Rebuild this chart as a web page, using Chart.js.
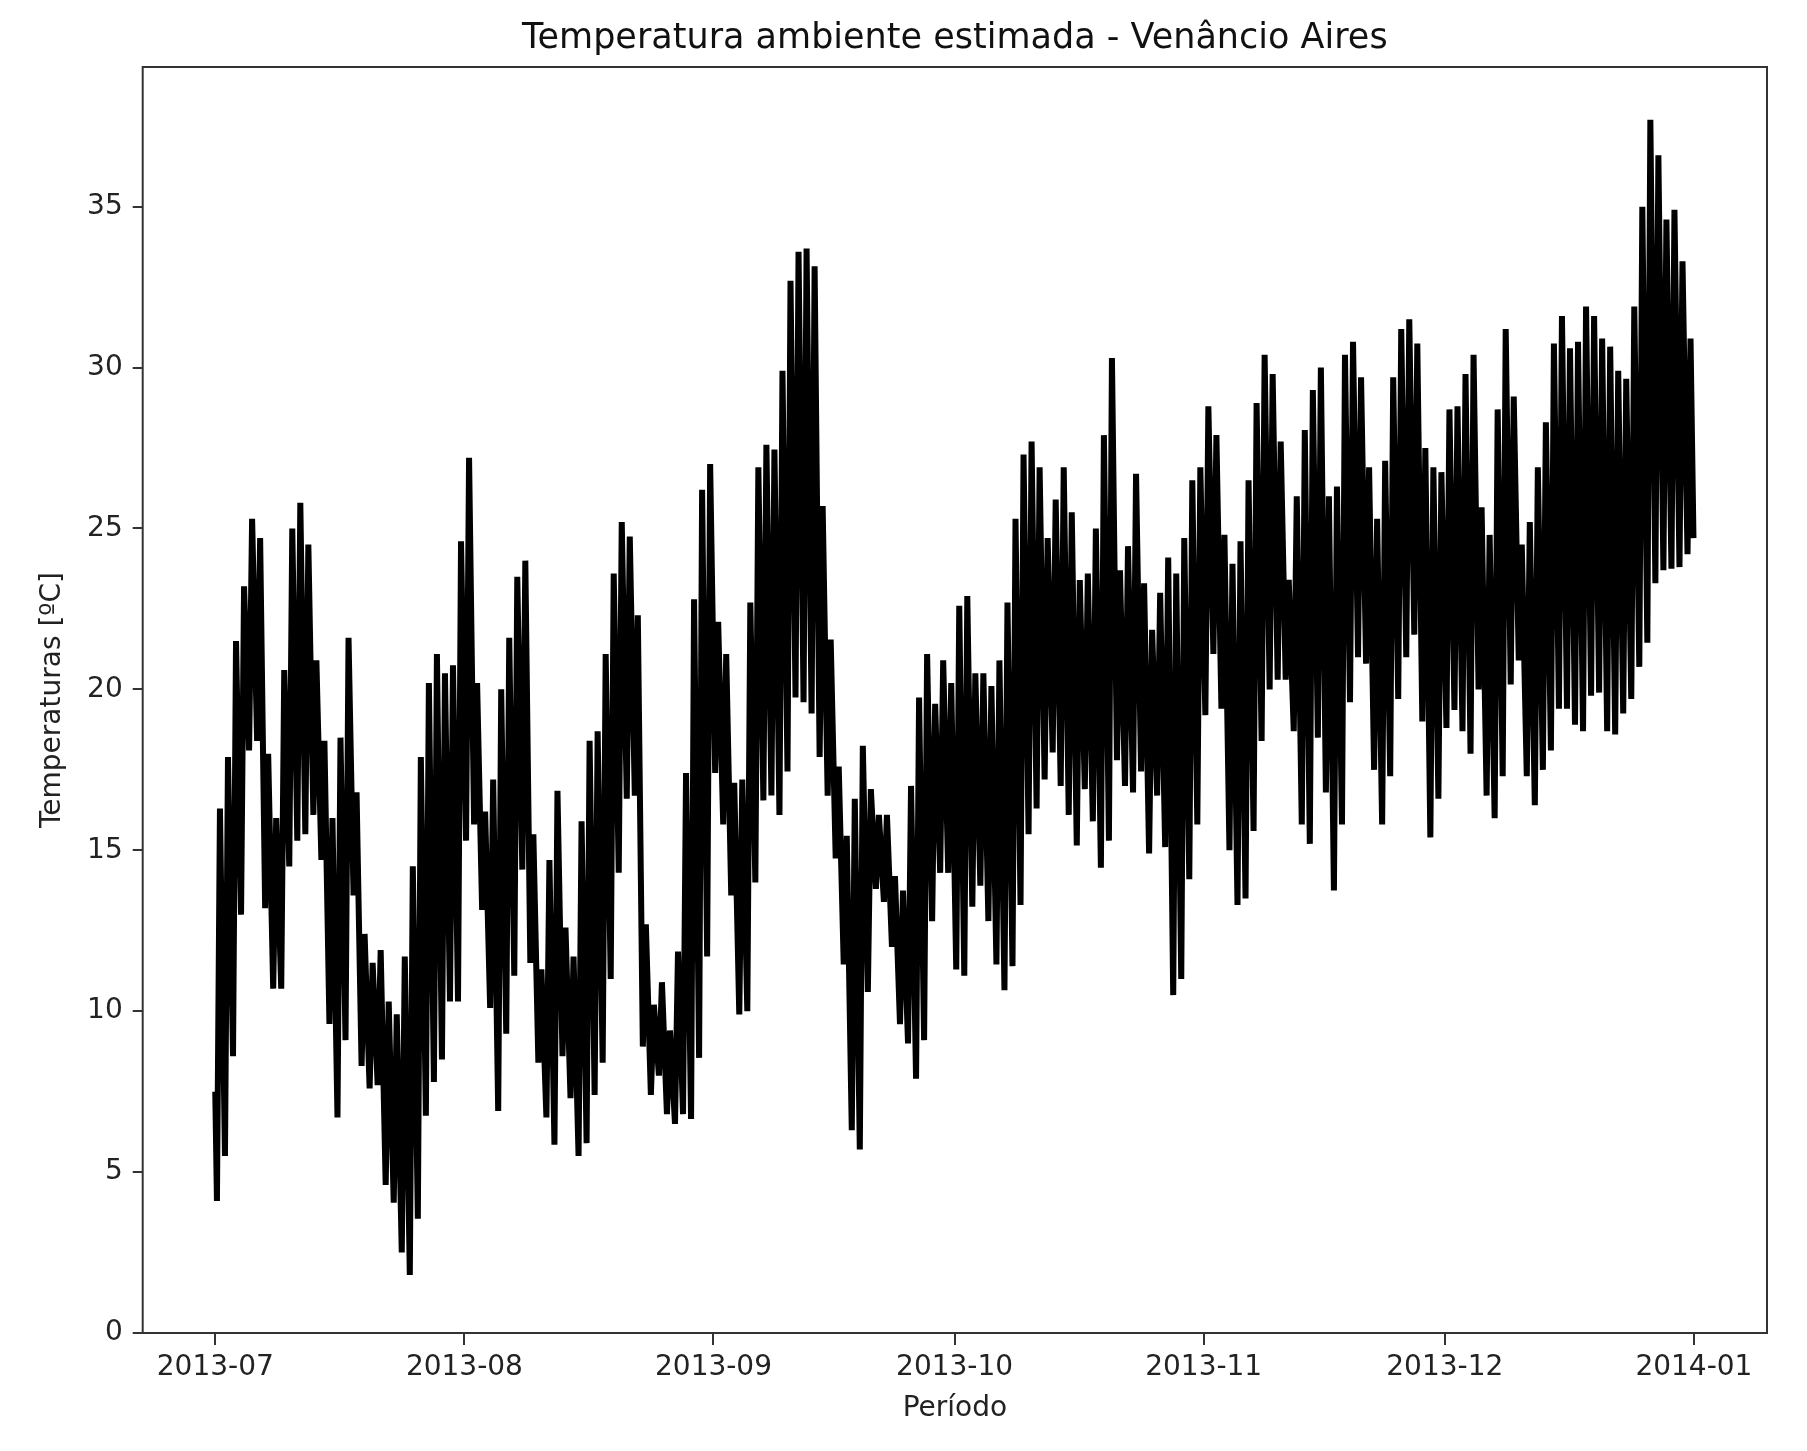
<!DOCTYPE html>
<html>
<head>
<meta charset="utf-8">
<title>Temperatura ambiente estimada</title>
<script src="https://cdn.jsdelivr.net/npm/chart.js@4"></script>
<style>
    body { margin: 0; background: #fff; }
    canvas { display: block; filter: blur(0.7px); }
</style>
</head>
<body>
<canvas id="tempChart" width="1807" height="1451"></canvas>
<script>
// primeiro e ultimo valor da serie
const firstValue = 7.5;
const lastValue = 24.7;

// minima de cada dia, de 2013-07-01 a 2013-12-31
const dailyLow = [
    4.1, 5.5, 8.6, 13.0, 18.1, 18.4, 13.2, 10.7, 10.7, 14.5,
    15.3, 15.5, 16.1, 14.7, 9.6, 6.7, 9.1, 13.6, 8.3, 7.6,
    7.7, 4.6, 4.05, 2.5, 1.8, 3.55, 6.75, 7.8, 8.5, 10.3, 10.3,
    15.3, 15.8, 13.15, 10.1, 6.9, 9.3, 11.1, 14.4, 11.5, 8.4,
    6.7, 5.85, 8.6, 7.3, 5.5, 5.9, 7.4, 8.4, 11.0, 14.3,
    16.6, 16.7, 8.9, 7.4, 8.0, 6.8, 6.5, 6.8, 6.65, 8.55, 11.7,
    17.4, 15.8, 13.6, 9.9, 10.0, 14.0, 16.55, 16.7, 16.1, 17.45,
    19.75, 19.6, 19.25, 17.9, 16.7, 14.75, 11.45, 6.3, 5.7, 10.6,
    13.8, 13.4, 12.0, 9.6, 9.0, 7.9, 9.1, 12.8, 14.3, 14.3,
    11.3, 11.1, 13.25, 13.9, 12.8, 11.45, 10.65, 11.4, 13.3, 15.5,
    16.3, 17.2, 18.04, 17.0, 16.1, 15.15, 16.9, 15.9, 14.46, 15.3,
    17.8, 17.0, 16.8, 17.45, 14.9, 16.7, 15.1, 10.5, 11.0, 14.1, 15.8,
    19.2, 21.1, 19.4, 15.0, 13.3, 13.5, 15.6, 18.4, 20.0, 20.3,
    20.3, 18.7, 15.8, 15.2, 18.5, 16.8, 13.75, 15.8, 19.6, 21.0,
    20.8, 17.5, 15.8, 17.3, 19.7, 21.0, 21.7, 19.0, 15.4, 16.6,
    18.8, 19.36, 18.7, 18.0, 20.0, 16.7, 16.0, 17.3, 20.15, 20.9,
    17.3, 16.4, 17.5, 18.1, 19.4, 19.4, 18.9, 18.7, 19.8, 19.9,
    18.7, 18.6, 19.25, 19.7, 20.7, 21.45, 23.3, 23.7, 23.75, 23.8, 24.2
];

// maxima de cada dia
const dailyHigh = [
    16.3, 17.9, 21.5, 23.2, 25.3, 24.7, 18.0, 16.0, 20.6, 25.0,
    25.8, 24.5, 20.9, 18.4, 16.0, 18.5, 21.6, 16.8, 12.4, 11.5,
    11.9, 10.3, 9.9, 11.7, 14.5, 17.9, 20.2, 21.1, 20.5, 20.75, 24.6,
    27.2, 20.2, 16.2, 17.2, 20.0, 21.6, 23.5, 24.0, 15.5, 11.3,
    14.7, 16.85, 12.6, 11.7, 15.9, 18.4, 18.7, 21.1, 23.6, 25.2,
    24.75, 22.3, 12.7, 10.2, 10.9, 9.4, 11.85, 17.4, 22.8, 26.2, 27.0,
    22.1, 21.1, 17.1, 17.2, 22.7, 26.9, 27.6, 27.45, 29.9, 32.7,
    33.6, 33.7, 33.15, 25.7, 21.55, 17.6, 15.45, 16.6, 18.25, 16.9,
    16.1, 16.1, 14.2, 13.75, 17.0, 19.75, 21.1, 19.55, 20.9, 20.2,
    22.6, 22.9, 20.5, 20.5, 20.1, 20.9, 22.7, 25.3, 27.3, 27.7,
    26.9, 24.7, 25.9, 26.9, 25.5, 23.4, 23.6, 25.0, 27.9, 30.3,
    23.7, 24.45, 26.7, 23.3, 21.85, 23.0, 24.1, 23.6, 24.7, 26.5, 26.9,
    28.8, 27.9, 24.8, 23.9, 24.6, 26.5, 28.9, 30.4, 29.8, 27.7,
    23.4, 26.0, 28.06, 29.3, 30.0, 26.0, 26.3, 30.4, 30.8, 29.7,
    26.9, 25.3, 27.1, 29.7, 31.2, 31.5, 30.75, 27.5, 26.9, 26.75,
    28.7, 28.8, 29.8, 30.4, 25.66, 24.8, 28.7, 31.2, 29.1, 24.5,
    25.2, 26.9, 28.3, 30.75, 31.6, 30.6, 30.8, 31.9, 31.6, 30.9,
    30.65, 29.9, 29.65, 31.9, 35.0, 37.7, 36.6, 34.6, 34.9, 33.3, 30.9
];

// hora aproximada da minima e da maxima
const lowHour = 5;
const highHour = 14;

// eixos
const xTickDays = [0, 31, 62, 92, 123, 153, 184];
const xTickLabels = ['2013-07', '2013-08', '2013-09', '2013-10', '2013-11', '2013-12', '2014-01'];
const yTicks = [0, 5, 10, 15, 20, 25, 30, 35];

const points = [{ x: 0, y: firstValue }];
dailyLow.forEach(function (low, day) {
    points.push({ x: day + lowHour / 24, y: low });
    points.push({ x: day + highHour / 24, y: dailyHigh[day] });
});
points.push({ x: 183.95, y: lastValue });

const tickFont = { family: 'DejaVu Sans', size: 28 };
const inkColor = '#222';
const spineColor = '#333';

// moldura completa em volta do grafico
const frame = {
    id: 'frame',
    afterDraw(chart) {
        const a = chart.chartArea;
        const ctx = chart.ctx;
        ctx.save();
        ctx.strokeStyle = spineColor;
        ctx.lineWidth = 2;
        ctx.strokeRect(a.left, a.top, a.right - a.left, a.bottom - a.top);
        ctx.restore();
    }
};

const tempCtx = document.getElementById('tempChart').getContext('2d');
const tempChart = new Chart(tempCtx, {
    type: 'line',
    data: {
        datasets: [{
            label: 'Temperatura',
            data: points,
            borderColor: '#000',
            borderWidth: 6,
            borderJoinStyle: 'bevel',
            borderCapStyle: 'butt',
            pointRadius: 0,
            tension: 0,
            fill: false
        }]
    },
    options: {
        responsive: false,
        animation: false,
        devicePixelRatio: 1,
        layout: { padding: { right: 40 } },
        plugins: {
            legend: { display: false },
            tooltip: { enabled: false },
            title: {
                display: true,
                fullSize: false,
                text: 'Temperatura ambiente estimada - Venâncio Aires',
                color: '#111',
                font: { family: 'DejaVu Sans', size: 35, weight: 'normal', lineHeight: 1.2 },
                padding: { top: 18, bottom: 7 }
            }
        },
        scales: {
            x: {
                type: 'linear',
                min: -9.03,
                max: 193.1,
                afterBuildTicks(axis) {
                    axis.ticks = xTickDays.map(function (d) { return { value: d }; });
                },
                afterFit(axis) { axis.height = 118; },
                grid: { drawOnChartArea: false, color: spineColor, lineWidth: 2, tickLength: 12 },
                border: { display: false },
                ticks: {
                    color: inkColor,
                    font: tickFont,
                    padding: 6,
                    maxRotation: 0,
                    autoSkip: false,
                    callback: function (value) { return xTickLabels[xTickDays.indexOf(value)]; }
                },
                title: {
                    display: true,
                    text: 'Período',
                    color: inkColor,
                    font: tickFont,
                    padding: { top: 0, bottom: 25 }
                }
            },
            y: {
                min: 0,
                max: 39.34,
                afterBuildTicks(axis) {
                    axis.ticks = yTicks.map(function (v) { return { value: v }; });
                },
                afterFit(axis) { axis.width = 142.7; },
                grid: { drawOnChartArea: false, color: spineColor, lineWidth: 2, tickLength: 10 },
                border: { display: false },
                ticks: {
                    color: inkColor,
                    font: tickFont,
                    padding: 10
                },
                title: {
                    display: true,
                    text: 'Temperaturas [ºC]',
                    color: inkColor,
                    font: tickFont,
                    padding: { top: 36, bottom: 0 }
                }
            }
        }
    },
    plugins: [frame]
});
</script>
</body>
</html>
